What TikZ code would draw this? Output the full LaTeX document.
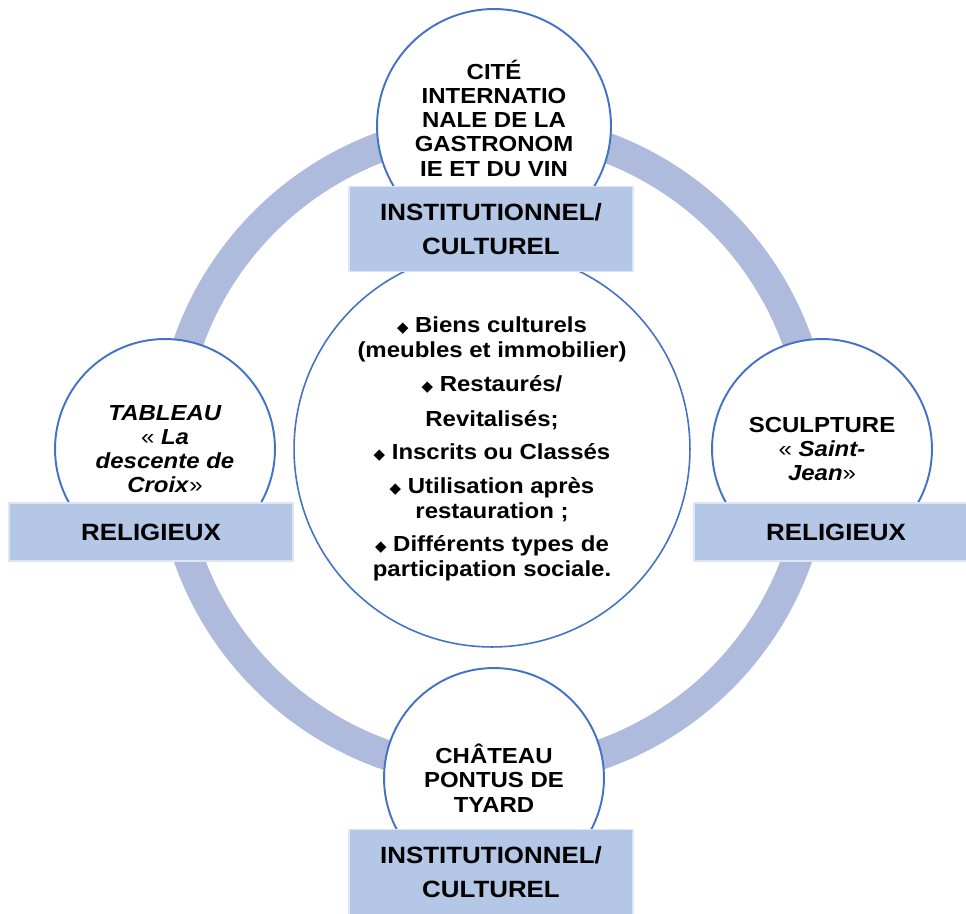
\documentclass[tikz,border=0pt]{standalone}
\usepackage{fontspec}
\setmainfont{Liberation Sans}[FakeStretch=1.1]
\newfontfamily\symfont{DejaVu Sans}
\definecolor{ringblue}{HTML}{AEBBDC}
\definecolor{boxblue}{HTML}{B4C7E7}
\definecolor{edgeblue}{HTML}{4472C4}
\newcommand{\bul}{{\symfont\fontsize{8.5}{8.5}\selectfont ◆}\ }
\newcommand{\guilo}{{\mdseries «}}
\newcommand{\guilc}{{\mdseries »}}

\begin{document}
\begin{tikzpicture}[x=0.02cm, y=-0.02cm,
        every node/.style={align=center, font=\bfseries\fontsize{12.4}{13.8}\selectfont},
        site/.style={circle, draw=edgeblue, line width=1.1pt, fill=white, minimum size=4.4cm, inner sep=0pt},
        tag/.style={rectangle, draw=boxblue!45!white, line width=0.8pt, fill=boxblue, minimum width=5.68cm,
                    font=\bfseries\fontsize{13.4}{19.3}\selectfont},
        ]
        \useasboundingbox (0,0) rectangle (966,913);

        % the ring behind everything
        \draw[ringblue, line width=0.6cm] (493,450) circle[radius=323];

        \node[site, minimum size=4.68cm] (c_top) at (494,126) {};
        \node (c_top_txt) at (494,118)
            {CITÉ\\INTERNATIO\\NALE DE LA\\GASTRONOM\\IE ET DU VIN};
        \node[site] (c_left) at (165,449)
            {\textit{TABLEAU}\\\guilo{} \textit{La}\\\textit{descente de}\\\textit{Croix}\guilc};
        \node[site] (c_right) at (822,449)
            {SCULPTURE\\\guilo{} \textit{Saint-}\\\textit{Jean}\guilc};
        \node[site] (c_bot) at (494,778)
            {CHÂTEAU\\PONTUS DE\\TYARD};
        \node[site, minimum size=7.92cm, line width=0.9pt,
              font=\bfseries\fontsize{12.4}{14.1}\selectfont] (c_mid) at (492,449)
            {\bul Biens culturels\\(meubles et immobilier)\\[5pt]
             \bul Restaurés/\\[6pt]Revitalisés;\\[5pt]
             \bul Inscrits ou Classés\\[5pt]
             \bul Utilisation après\\restauration ;\\[5pt]
             \bul Différents types de\\participation sociale.};

        % labels over the circles
        \node[tag, minimum height=1.7cm] (t_top) at (491,229) {INSTITUTIONNEL/\\CULTUREL};
        \node[tag, minimum height=1.16cm] (t_left) at (151,532) {RELIGIEUX};
        \node[tag, minimum height=1.16cm] (t_right) at (836,532) {RELIGIEUX};
        \node[tag, minimum height=1.7cm] (t_bot) at (491,872) {INSTITUTIONNEL/\\CULTUREL};
\end{tikzpicture}
\end{document}
